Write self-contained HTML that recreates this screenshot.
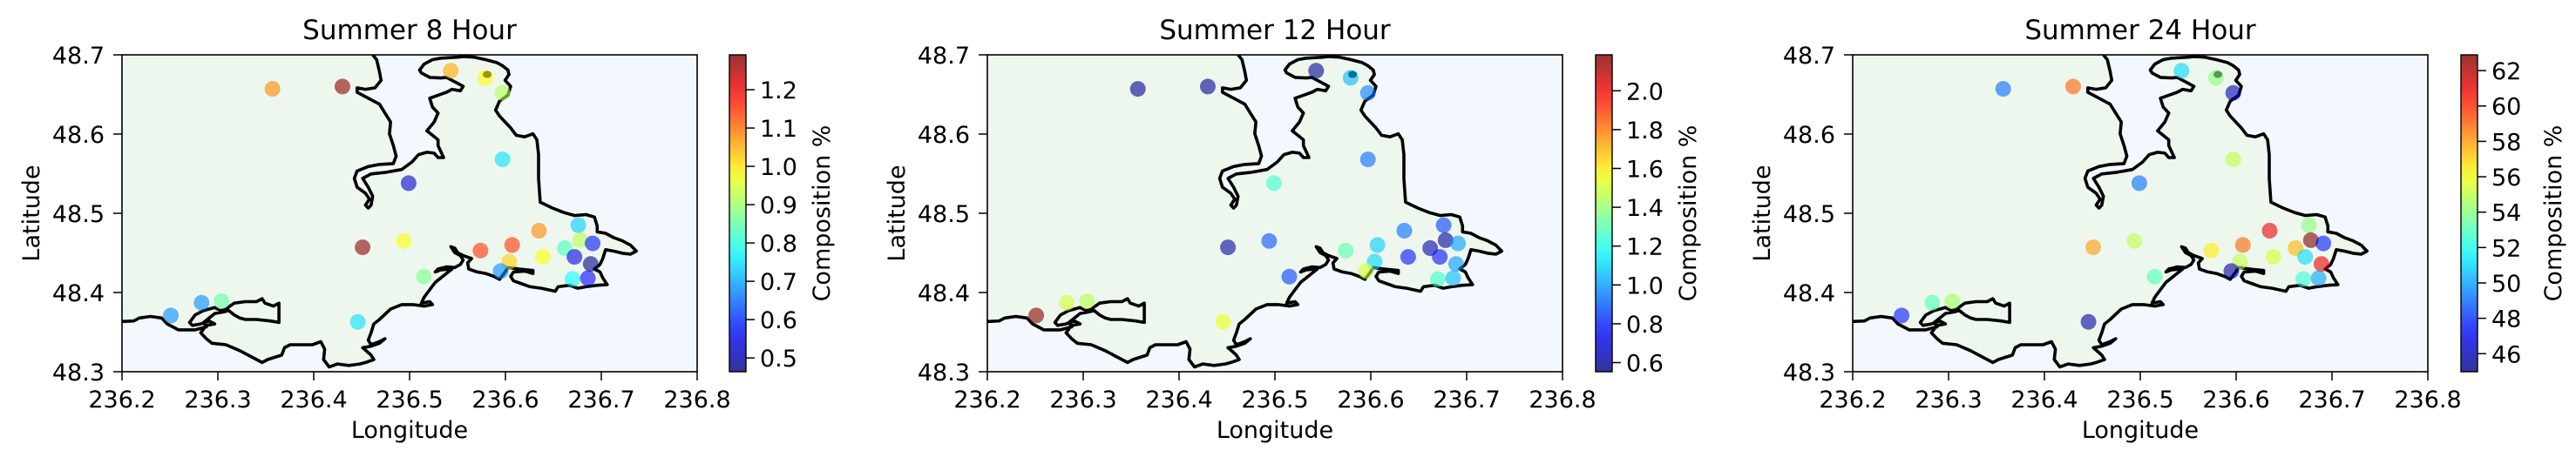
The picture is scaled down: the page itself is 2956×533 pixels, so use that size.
<!DOCTYPE html>
<html><head><meta charset="utf-8"><style>
html,body{margin:0;padding:0;background:#fff;}
svg{display:block;font-family:"DejaVu Sans","Liberation Sans",sans-serif;}
</style></head><body>
<svg id="fig" width="2956" height="533" viewBox="0 0 2956 533" xmlns="http://www.w3.org/2000/svg"></svg>
<script>
const lon = [236.357,236.430,236.543,236.579,236.597,236.597,236.499,236.676,236.635,236.678,236.691,236.607,236.574,236.662,236.639,236.672,236.604,236.689,236.595,236.670,236.686,236.515,236.494,236.451,236.446,236.251,236.283,236.304];
const lat = [48.657,48.660,48.680,48.671,48.652,48.568,48.538,48.485,48.478,48.466,48.462,48.460,48.453,48.456,48.445,48.445,48.439,48.436,48.427,48.417,48.418,48.420,48.465,48.457,48.363,48.371,48.387,48.389];
const vals8 = [1.08,1.28,1.05,0.98,0.92,0.75,0.52,0.73,1.08,0.92,0.58,1.15,1.15,0.83,0.98,0.55,1.02,0.47,0.68,0.78,0.57,0.87,0.98,1.28,0.75,0.68,0.68,0.85];
const vals12 = [0.58,0.58,0.58,1.05,0.95,0.92,1.25,0.85,0.92,0.60,1.00,1.08,1.30,0.62,0.78,0.78,1.10,1.00,1.50,1.25,1.05,0.85,0.88,0.60,1.55,2.18,1.50,1.45];
const vals24 = [49,59,51,54,46,55,49,54,61,63,47.5,59,56.5,57.5,55.5,51,55,61,45.5,52.5,50,53,55,58,45.5,47.5,53,54.5];
const titles = ["Summer 8 Hour","Summer 12 Hour","Summer 24 Hour"];
const ticks8 = [0.5,0.6,0.7,0.8,0.9,1.0,1.1,1.2];
const ticks12 = [0.6,0.8,1.0,1.2,1.4,1.6,1.8,2.0];
const ticks24 = [46,48,50,52,54,56,58,60,62];
const xTicks = [236.2,236.3,236.4,236.5,236.6,236.7,236.8];
const yTicks = [48.3,48.4,48.5,48.6,48.7];

const panels = [
 {ax:140, cb:837, vals:vals8, ticks:ticks8, vmin:0.464, vmax:1.291, fmt:v=>v.toFixed(1)},
 {ax:1133, cb:1831, vals:vals12, ticks:ticks12, vmin:0.553, vmax:2.185, fmt:v=>v.toFixed(1)},
 {ax:2126, cb:2824, vals:vals24, ticks:ticks24, vmin:44.98, vmax:62.89, fmt:v=>String(v)}
];
const AW=660, AT=63, AH=364, CBW=19, FS=27;
const coast=[[219,184],[668,184],[675,200],[680,240],[683,270],[672,295],[655,300],[640,295],[640,310],[660,330],[680,350],[690,380],[700,410],[698,450],[705,490],[710,525],[705,550],[680,553],[660,560],[640,575],[635,600],[640,630],[655,650],[662,670],[655,690],[660,700],[665,690],[668,660],[660,630],[650,600],[665,585],[690,580],[720,570],[738,545],[750,520],[765,512],[778,515],[785,530],[795,530],[790,510],[785,490],[785,470],[775,455],[765,440],[778,410],[785,380],[775,360],[770,330],[785,320],[800,310],[810,300],[825,305],[830,290],[820,280],[810,270],[800,260],[790,262],[770,260],[755,245],[752,235],[760,215],[775,200],[790,195],[820,192],[830,190],[850,192],[870,200],[890,210],[900,220],[910,235],[912,250],[905,270],[915,290],[910,320],[895,340],[888,370],[895,390],[905,410],[915,430],[925,455],[940,460],[955,450],[962,470],[965,520],[965,600],[968,680],[990,700],[1010,715],[1030,725],[1050,722],[1065,730],[1070,760],[1070,780],[1085,785],[1100,800],[1115,810],[1130,825],[1140,845],[1130,855],[1115,852],[1100,845],[1085,840],[1080,870],[1075,890],[1065,905],[1075,915],[1080,935],[1088,958],[1070,960],[1050,965],[1035,970],[1020,960],[1000,965],[995,980],[970,970],[950,965],[935,955],[920,945],[915,930],[920,915],[940,912],[955,920],[955,910],[930,905],[910,900],[905,915],[895,940],[885,930],[870,920],[855,915],[840,905],[838,885],[845,870],[830,860],[820,850],[815,835],[808,830],[815,850],[825,860],[830,875],[825,890],[815,900],[800,898],[785,905],[780,915],[790,908],[810,905],[800,920],[790,935],[780,950],[770,975],[760,1000],[755,1020],[770,1015],[775,1025],[760,1030],[740,1025],[720,1025],[700,1040],[680,1075],[670,1090],[665,1120],[660,1145],[665,1160],[680,1150],[690,1140],[680,1155],[665,1165],[650,1170],[665,1195],[670,1210],[655,1220],[645,1225],[625,1230],[605,1225],[590,1235],[580,1210],[582,1175],[575,1150],[560,1160],[520,1160],[510,1170],[505,1195],[480,1210],[470,1220],[450,1200],[430,1180],[405,1160],[380,1155],[370,1140],[360,1120],[370,1095],[385,1090],[375,1080],[360,1090],[345,1095],[340,1085],[350,1060],[365,1045],[385,1035],[395,1045],[405,1040],[420,1020],[440,1015],[460,1015],[470,1005],[475,1020],[490,1030],[500,1020],[500,1055],[500,1085],[485,1080],[460,1075],[440,1075],[430,1070],[420,1060],[410,1045],[400,1050],[385,1055],[375,1070],[365,1085],[370,1100],[350,1110],[320,1110],[300,1090],[290,1070],[270,1065],[250,1070],[240,1080],[219,1082]];

function jet(t){t=Math.max(0,Math.min(1,t));const c=x=>Math.round(255*Math.max(0,Math.min(1,x)));
 return `rgb(${c(1.5-Math.abs(4*t-3))},${c(1.5-Math.abs(4*t-2))},${c(1.5-Math.abs(4*t-1))})`;}
const NS="http://www.w3.org/2000/svg";
const fig=document.getElementById('fig');
function mk(tag,attrs,parent){const e=document.createElementNS(NS,tag);for(const k in attrs)e.setAttribute(k,attrs[k]);(parent||fig).appendChild(e);return e;}
const defs=mk('defs',{});
panels.forEach((p,i)=>{
 const g=mk('g',{});
 
 
 const X=v=>p.ax+(v-236.2)/0.6*AW;
 const Y=v=>AT+(48.7-v)/0.4*AH;
 const cpId='clip'+i;
 const cp=mk('clipPath',{id:cpId},defs);
 mk('rect',{x:p.ax,y:AT,width:AW,height:AH},cp);
 const water=mk('rect',{x:p.ax,y:AT,width:AW,height:AH,fill:'#f3f8fe'},g);
 
 
 const P=c=>[(p.ax+(c[0]-219)/1030*AW).toFixed(1),(AT+(c[1]-184)/1067*AH).toFixed(1)].join(',');
 const land=mk('polygon',{points:coast.map(P).join(' '),fill:'#eef7ee',stroke:'none','clip-path':`url(#${cpId})`},g);
 
 
 const line=mk('polyline',{points:coast.slice(1).map(P).join(' '),fill:'none',stroke:'#000','stroke-width':3.6,'stroke-linejoin':'round','clip-path':`url(#${cpId})`},g);
 
 
 const isl=mk('ellipse',{cx:p.ax+(873-219)/1030*AW,cy:AT+(250-184)/1067*AH,rx:5,ry:4,fill:'#000'},g);
 
 
 for(let k=0;k<lon.length;k++){
  const c=mk('circle',{cx:X(lon[k]).toFixed(1),cy:Y(lat[k]).toFixed(1),r:9,fill:jet((p.vals[k]-p.vmin)/(p.vmax-p.vmin)),'fill-opacity':0.6},g);
  
  
 }
 const fr=mk('rect',{x:p.ax,y:AT,width:AW,height:AH,fill:'none',stroke:'#000','stroke-width':1.6},g);
 
 
 xTicks.forEach(v=>{
  mk('line',{x1:X(v),x2:X(v),y1:AT+AH,y2:AT+AH+10,stroke:'#000','stroke-width':1.5},g);
  const t=mk('text',{x:X(v),y:468,'font-size':FS,'text-anchor':'middle'},g);t.textContent=v.toFixed(1);
  
  
 });
 yTicks.forEach(v=>{
  mk('line',{x1:p.ax-10,x2:p.ax,y1:Y(v),y2:Y(v),stroke:'#000','stroke-width':1.5},g);
  const t=mk('text',{x:p.ax-20,y:Y(v)+10,'font-size':FS,'text-anchor':'end'},g);t.textContent=v.toFixed(1);
  
  
 });
 const tt=mk('text',{x:p.ax+AW/2,y:45,'font-size':31,'text-anchor':'middle'},g);tt.textContent=titles[i];
 
 
 const xl=mk('text',{x:p.ax+AW/2,y:503,'font-size':FS,'text-anchor':'middle'},g);xl.textContent='Longitude';
 
 
 const yl=mk('text',{x:0,y:0,'font-size':FS,'text-anchor':'middle',transform:`translate(${p.ax-95},${AT+AH/2}) rotate(-90)`},g);yl.textContent='Latitude';
 
 
 const gid='grad'+i;
 const gr=mk('linearGradient',{id:gid,x1:0,y1:1,x2:0,y2:0},defs);
 for(let s=0;s<=20;s++){mk('stop',{offset:s/20,'stop-color':jet(s/20),'stop-opacity':0.8},gr);}
 const cb=mk('rect',{x:p.cb,y:AT,width:CBW,height:AH,fill:`url(#${gid})`,stroke:'#000','stroke-width':1.4},g);
 
 
 const CY=v=>AT+(p.vmax-v)/(p.vmax-p.vmin)*AH;
 p.ticks.forEach(v=>{
  mk('line',{x1:p.cb+CBW,x2:p.cb+CBW+10,y1:CY(v),y2:CY(v),stroke:'#000','stroke-width':1.5},g);
  const t=mk('text',{x:p.cb+CBW+16,y:CY(v)+10,'font-size':FS},g);t.textContent=p.fmt(v);
  
  
 });
 const cl=mk('text',{x:0,y:0,'font-size':FS,'text-anchor':'middle',transform:`translate(${p.cb+CBW+96},${AT+AH/2}) rotate(-90)`},g);cl.textContent='Composition %';
 
 
});
</script>
</body></html>
